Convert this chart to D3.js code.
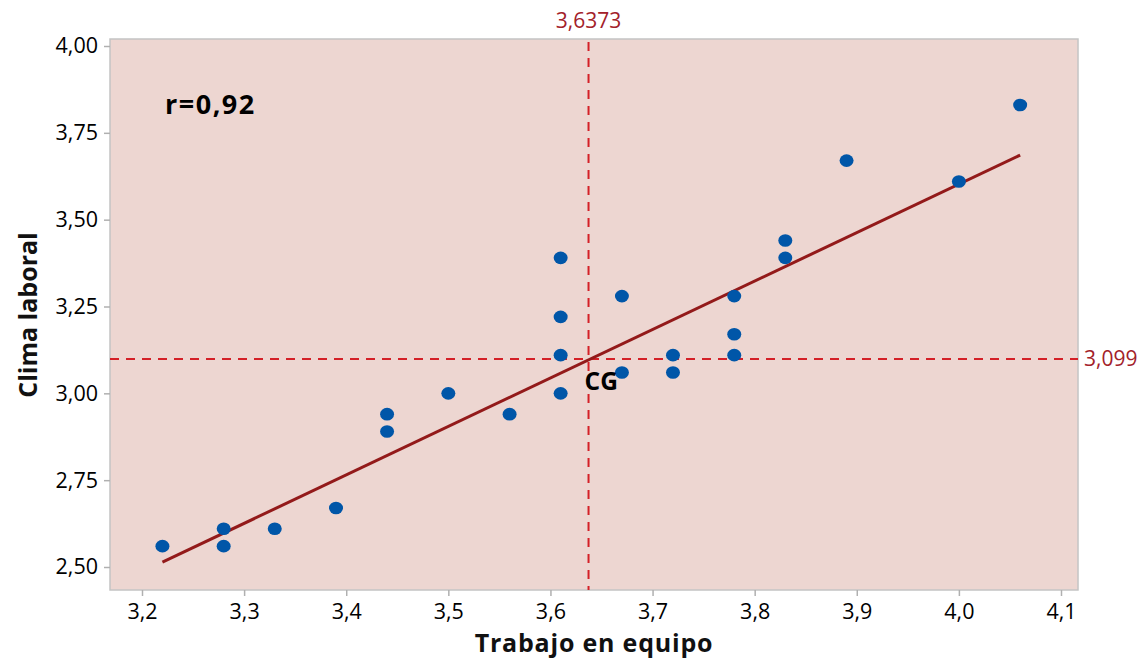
<!DOCTYPE html>
<html><head><meta charset="utf-8">
<script src="https://cdn.jsdelivr.net/npm/d3@7"></script>
<style>body{margin:0;background:#fff}svg{display:block}</style>
</head><body><svg id="c" width="1148" height="661"></svg>
<script>
const trabajo = [3.22,3.28,3.28,3.33,3.39,3.44,3.44,3.50,3.56,3.61,3.61,3.61,3.61,3.67,3.67,3.72,3.72,3.78,3.78,3.78,3.83,3.83,3.89,4.00,4.06];
const clima   = [2.56,2.61,2.56,2.61,2.67,2.94,2.89,3.00,2.94,3.39,3.22,3.11,3.00,3.28,3.06,3.11,3.06,3.28,3.17,3.11,3.44,3.39,3.67,3.61,3.83];
const fitX = [3.22, 4.06];
const fitY = [2.514, 3.686];
const cgX = 3.6373, cgY = 3.099;
const xTicks = [3.2,3.3,3.4,3.5,3.6,3.7,3.8,3.9,4.0,4.1];
const yTicks = [2.50,2.75,3.00,3.25,3.50,3.75,4.00];
const rLabel = "r=0,92";

const svg = d3.select("#c");
const L=110,R=1078,T=39,B=590;
const x = d3.scaleLinear().domain([3.2,4.1]).range([142,1061]);
const y = d3.scaleLinear().domain([2.5,4.0]).range([567,46]);
const font = "'Open Sans', 'Noto Sans', sans-serif";
const comma = f => v => d3.format(f)(v).replace(".", ",");

svg.append("rect").attr("x",L).attr("y",T).attr("width",R-L).attr("height",B-T)
  .attr("fill","#edd6d1").attr("stroke","#c4c4c4").attr("stroke-width",1.5);

const gx = svg.append("g").attr("transform",`translate(0,${B})`)
  .call(d3.axisBottom(x).tickValues(xTicks).tickFormat(comma(".1f")).tickSize(6).tickPadding(8));
const gy = svg.append("g").attr("transform",`translate(${L},0)`)
  .call(d3.axisLeft(y).tickValues(yTicks).tickFormat(comma(".2f")).tickSize(6).tickPadding(6));
[gx,gy].forEach(g=>{
  g.select(".domain").remove();
  g.selectAll("line").attr("stroke","#b0b0b0").attr("stroke-width",1.5);
  g.selectAll("text").attr("font-family",font).attr("font-size",21.5).attr("fill","#000");
});

// reference lines
svg.append("line").attr("x1",x(cgX)).attr("x2",x(cgX)).attr("y1",T+3).attr("y2",B)
  .attr("stroke","#d42027").attr("stroke-width",2).attr("stroke-dasharray","9,7");
svg.append("line").attr("x1",L).attr("x2",R).attr("y1",y(cgY)).attr("y2",y(cgY))
  .attr("stroke","#d42027").attr("stroke-width",2).attr("stroke-dasharray","9,7");

// fit line
svg.append("line").attr("x1",x(fitX[0])).attr("y1",y(fitY[0])).attr("x2",x(fitX[1])).attr("y2",y(fitY[1]))
  .attr("stroke","#931a1a").attr("stroke-width",3);

// points
svg.append("g").selectAll("ellipse").data(trabajo.map((v,i)=>[v,clima[i]])).join("ellipse")
  .attr("cx",d=>x(d[0])).attr("cy",d=>y(d[1])).attr("rx",7).attr("ry",6.3).attr("fill","#0056a8");

// labels
svg.append("text").attr("x",x(cgX)).attr("y",28).attr("text-anchor","middle")
  .attr("font-family",font).attr("font-size",21).attr("fill","#a3212a").text(comma(".4f")(cgX));
svg.append("text").attr("x",R+6).attr("y",y(cgY)+7).attr("text-anchor","start")
  .attr("font-family",font).attr("font-size",21).attr("fill","#a3212a").text(comma(".3f")(cgY));
svg.append("text").attr("x",x(cgX)-4).attr("y",y(cgY)+31)
  .attr("font-family",font).attr("font-size",24.5).attr("font-weight","bold").attr("fill","#000").text("CG");
svg.append("text").attr("x",165).attr("y",114).attr("letter-spacing",1.5)
  .attr("font-family",font).attr("font-size",27).attr("font-weight","bold").attr("fill","#000").text(rLabel);

// axis titles
svg.append("text").attr("x",594).attr("y",652).attr("text-anchor","middle").attr("letter-spacing",0.8)
  .attr("font-family",font).attr("font-size",25).attr("font-weight","bold").attr("fill","#111").text("Trabajo en equipo");
svg.append("text").attr("transform","translate(37,315) rotate(-90)").attr("text-anchor","middle")
  .attr("font-family",font).attr("font-size",25).attr("font-weight","bold").attr("fill","#111").text("Clima laboral");
</script></body></html>
